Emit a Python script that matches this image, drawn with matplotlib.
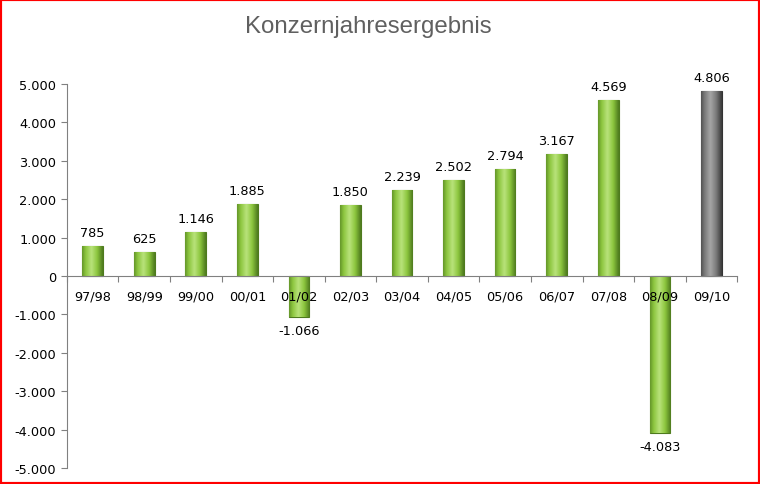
import matplotlib.pyplot as plt
import numpy as np
from matplotlib.patches import Rectangle
from matplotlib.colors import LinearSegmentedColormap

jahre = ['97/98', '98/99', '99/00', '00/01', '01/02', '02/03', '03/04',
         '04/05', '05/06', '06/07', '07/08', '08/09', '09/10']
werte = [785, 625, 1146, 1885, -1066, 1850, 2239, 2502, 2794, 3167, 4569, -4083, 4806]
farben = ['green'] * 12 + ['grey']

def fmt(v):
    return '{:,}'.format(v).replace(',', '.')

fs = 9.3

fig = plt.figure(figsize=(7.6, 4.85), dpi=100)
ax = fig.add_axes([0.088, 0.033, 0.882, 0.792])

x = np.arange(len(jahre))
bars = ax.bar(x, werte, width=0.4, color='#8CC63E', edgecolor='#4E7A1E', linewidth=0.8, zorder=1)

# gradient fuer den Glanzeffekt
grad = np.linspace(0, 1, 64)
grad = 1 - np.abs(grad - 0.45) * 1.6
grad = np.clip(grad, 0, 1)[None, :]
gruen = LinearSegmentedColormap.from_list('g', ['#4E7A1E', '#8CC63E', '#B8E27A'])
grau = LinearSegmentedColormap.from_list('k', ['#3A3A3A', '#7A7A7A', '#A5A5A5'])
for b, f in zip(bars, farben):
    cm = gruen
    if f == 'grey':
        cm = grau
        b.set_edgecolor('#333333')
    x0, y0 = b.get_x(), b.get_y()
    w, h = b.get_width(), b.get_height()
    im = ax.imshow(grad, cmap=cm, aspect='auto', extent=[x0, x0 + w, y0, y0 + h],
                   zorder=1.2, interpolation='bicubic')
    im.set_clip_path(b)

for xi, v in zip(x, werte):
    if v >= 0:
        ax.annotate(fmt(v), (xi, v), xytext=(0, 5), textcoords='offset points',
                    ha='center', va='bottom', fontsize=fs, color='black')
    else:
        ax.annotate(fmt(v), (xi, v), xytext=(0, -5), textcoords='offset points',
                    ha='center', va='top', fontsize=fs, color='black')

ax.set_xlim(-0.5, len(jahre) - 0.5)
ax.set_ylim(-5000, 5000)
ax.set_yticks(range(-5000, 5001, 1000))
ax.set_yticklabels([fmt(t) for t in range(-5000, 5001, 1000)], fontsize=fs)

ax.spines['top'].set_visible(False)
ax.spines['right'].set_visible(False)
ax.spines['bottom'].set_position(('data', 0))
ax.spines['bottom'].set_color('#808080')
ax.spines['left'].set_color('#808080')

ax.set_xticks(np.arange(-0.5, len(jahre), 1))
ax.set_xticklabels([])
ax.set_xticks(x, minor=True)
ax.set_xticklabels(jahre, minor=True, fontsize=fs)
ax.tick_params(axis='x', which='minor', length=0, pad=10)
ax.tick_params(axis='x', which='major', length=4, color='#808080', direction='out')
ax.tick_params(axis='y', length=4, color='#808080')
ax.xaxis.set_zorder(3)
ax.yaxis.set_zorder(3)

fig.text(0.485, 0.945, 'Konzernjahresergebnis', ha='center', va='center',
         fontsize=17.3, color='#606060', family='Liberation Sans')

fig.patches.append(Rectangle((0, 0), 1, 1, transform=fig.transFigure, fill=False,
                             edgecolor='red', linewidth=3, zorder=10))

fig.savefig('out.png', dpi=100)
